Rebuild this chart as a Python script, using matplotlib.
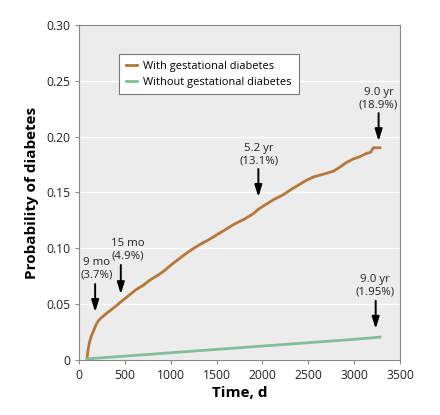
import numpy as np
import matplotlib.pyplot as plt
from matplotlib.ticker import FuncFormatter

# Kaplan-Meier style curves
days_gdm = [84, 95, 110, 130, 156, 175, 200, 229, 260, 300, 350, 411, 454, 500, 560, 620, 700,
            780, 860, 930, 1000, 1080, 1160, 1250, 1330, 1420, 1500, 1600, 1700, 1800, 1900,
            1955, 2050, 2130, 2228, 2300, 2400, 2482, 2560, 2650, 2773, 2850, 2920, 2991,
            3060, 3137, 3180, 3209, 3282]
prob_gdm = [0.0, 0.008, 0.015, 0.021, 0.026, 0.030, 0.034, 0.037, 0.039, 0.042, 0.045, 0.049,
            0.052, 0.055, 0.059, 0.063, 0.067, 0.072, 0.076, 0.080, 0.085, 0.090, 0.095, 0.100,
            0.104, 0.108, 0.112, 0.117, 0.122, 0.126, 0.131, 0.135, 0.140, 0.144, 0.148, 0.152,
            0.157, 0.161, 0.164, 0.166, 0.169, 0.173, 0.177, 0.180, 0.182, 0.185, 0.186, 0.190, 0.190]

days_no = [84, 500, 1000, 1500, 2000, 2500, 3000, 3282]
prob_no = [0.001, 0.0035, 0.0065, 0.0095, 0.0125, 0.0155, 0.0185, 0.0205]

# annotations: text, arrow x, arrow tip y, arrow tail y, text x, text bottom y
notes = [
    ("9 mo\n(3.7%)", 174, 0.043, 0.068, 193, 0.071),
    ("15 mo\n(4.9%)", 454, 0.059, 0.085, 527, 0.088),
    ("5.2 yr\n(13.1%)", 1955, 0.146, 0.171, 1963, 0.173),
    ("9.0 yr\n(18.9%)", 3267, 0.196, 0.221, 3267, 0.223),
    ("9.0 yr\n(1.95%)", 3235, 0.028, 0.053, 3227, 0.056),
]

plt.rcParams['font.family'] = ['Open Sans', 'DejaVu Sans']

fig = plt.figure(figsize=(4.4, 4.15), dpi=100)
ax = fig.add_axes([0.18, 0.1325, 0.729, 0.8075])
ax.set_facecolor('#ececec')

ax.plot(days_gdm, prob_gdm, color='#b5773a', linewidth=2.0, label='With gestational diabetes', zorder=3)
ax.plot(days_no, prob_no, color='#83bd9b', linewidth=2.0, label='Without gestational diabetes', zorder=3)

for txt, ax_x, tip, tail, tx, ty in notes:
    ax.annotate('', xy=(ax_x, tip), xytext=(ax_x, tail),
                arrowprops=dict(arrowstyle='-|>,head_width=0.22,head_length=0.7',
                                color='black', lw=1.4, shrinkA=0, shrinkB=0), zorder=4)
    ax.text(tx, ty, txt, ha='center', va='bottom', fontsize=8.2, linespacing=1.2, color='#222222')

ax.set_xlim(0, 3500)
ax.set_ylim(0, 0.30)
ax.set_xticks(np.arange(0, 3501, 500))
ax.set_yticks(np.arange(0, 0.301, 0.05))
ax.yaxis.set_major_formatter(FuncFormatter(lambda v, p: '0' if v == 0 else f'{v:.2f}'))
ax.grid(axis='y', color='white', linewidth=1.0)
ax.set_axisbelow(True)
for s in ax.spines.values():
    s.set_color('#888888')
ax.tick_params(colors='#888888', labelcolor='#222222', labelsize=8.7, length=3)

ax.set_xlabel('Time, d', fontsize=11, fontweight='bold', labelpad=3)
ax.set_ylabel('Probability of diabetes', fontsize=11, fontweight='bold', labelpad=5)

leg = ax.legend(loc='upper left', bbox_to_anchor=(0.125, 0.913), borderaxespad=0, fontsize=7.9,
                fancybox=False, framealpha=1, edgecolor='#777777',
                handlelength=1.0, handletextpad=0.6, borderpad=0.6, labelspacing=0.45)
leg.get_frame().set_linewidth(0.8)

plt.savefig('out.png', dpi=100)
